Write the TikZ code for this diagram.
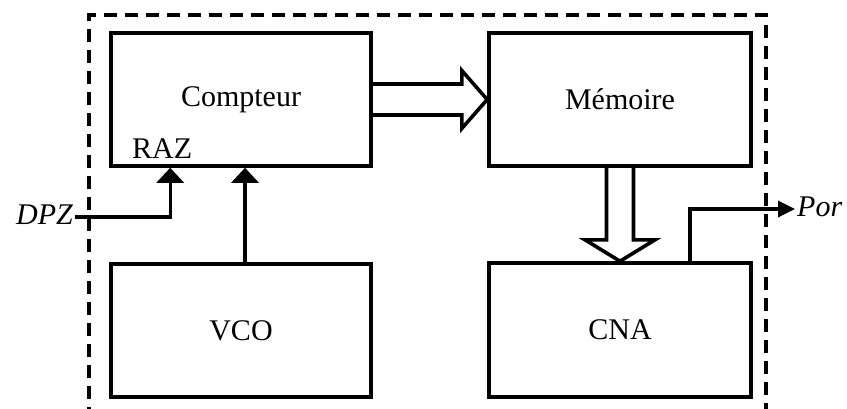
\documentclass[tikz,border=0pt]{standalone}
\usepackage{fontspec}
\setmainfont{Liberation Serif}
\usetikzlibrary{arrows.meta,calc}
\begin{document}
\begin{tikzpicture}[x=1pt,y=-1pt,
  blockbox/.style={draw,line width=3.6pt,rectangle,inner sep=0pt,font=\fontsize{30}{36}\selectfont},
  conn/.style={line width=3.4pt,-{Triangle[length=15pt,width=27pt]}},
  outconn/.style={line width=3.4pt,-{Triangle[length=17pt,width=16pt]}},
  fatarrow/.style={line width=3.6pt,line join=miter},
  frame/.style={line width=4.5pt,dash pattern=on 13pt off 8pt},
  lbl/.style={inner sep=0pt,font=\fontsize{30}{36}\selectfont}]
\useasboundingbox (0,0) rectangle (847,408);
% outer dashed frame
\draw[frame] (89,420) -- (89,15) -- (766,15) -- (766,420);
% blocks
\node[blockbox,minimum width=260pt,minimum height=133pt] (compteur) at (241,99.5) {Compteur};
\node[blockbox,minimum width=262pt,minimum height=133pt] (memoire) at (620,99.5) {Mémoire};
\node[blockbox,minimum width=260pt,minimum height=133pt] (vco) at (241,330.5) {VCO};
\node[blockbox,minimum width=262pt,minimum height=134pt] (cna) at (620,330) {CNA};
% RAZ label
\node[lbl,anchor=base west] (raz) at (132,158) {RAZ};
% DPZ input
\node[lbl,anchor=east,font=\fontsize{30}{36}\selectfont\itshape] (dpz) at (73,215) {DPZ};
\coordinate (dpzin) at (75,217);
\coordinate (razin) at ($(compteur.south west)+(61,0)$);
\draw[conn] (dpzin) -| (razin);
% VCO -> Compteur
\draw[conn] ([xshift=4pt]vco.north) -- ([xshift=4pt]compteur.south);
% Por output
\coordinate (por) at (795,209);
\node[lbl,anchor=west,font=\fontsize{30}{36}\selectfont\itshape] (portxt) at (797,207) {Por};
\draw[outconn] ([xshift=70pt]cna.north) |- (por);
% wide arrow Compteur -> Memoire
\draw[fatarrow] ($(compteur.east)+(0,-15.5)$) -- ($(compteur.east)+(89,-15.5)$)
  -- ($(compteur.east)+(89,-29)$) -- (memoire.west)
  -- ($(compteur.east)+(89,29)$) -- ($(compteur.east)+(89,15.5)$)
  -- ($(compteur.east)+(0,15.5)$);
% wide arrow Memoire -> CNA
\draw[fatarrow] ($(memoire.south)+(-13.5,0)$) -- ($(memoire.south)+(-13.5,72)$)
  -- ($(memoire.south)+(-35,72)$) -- (cna.north)
  -- ($(memoire.south)+(35,72)$) -- ($(memoire.south)+(13.5,72)$)
  -- ($(memoire.south)+(13.5,0)$);
\end{tikzpicture}
\end{document}
